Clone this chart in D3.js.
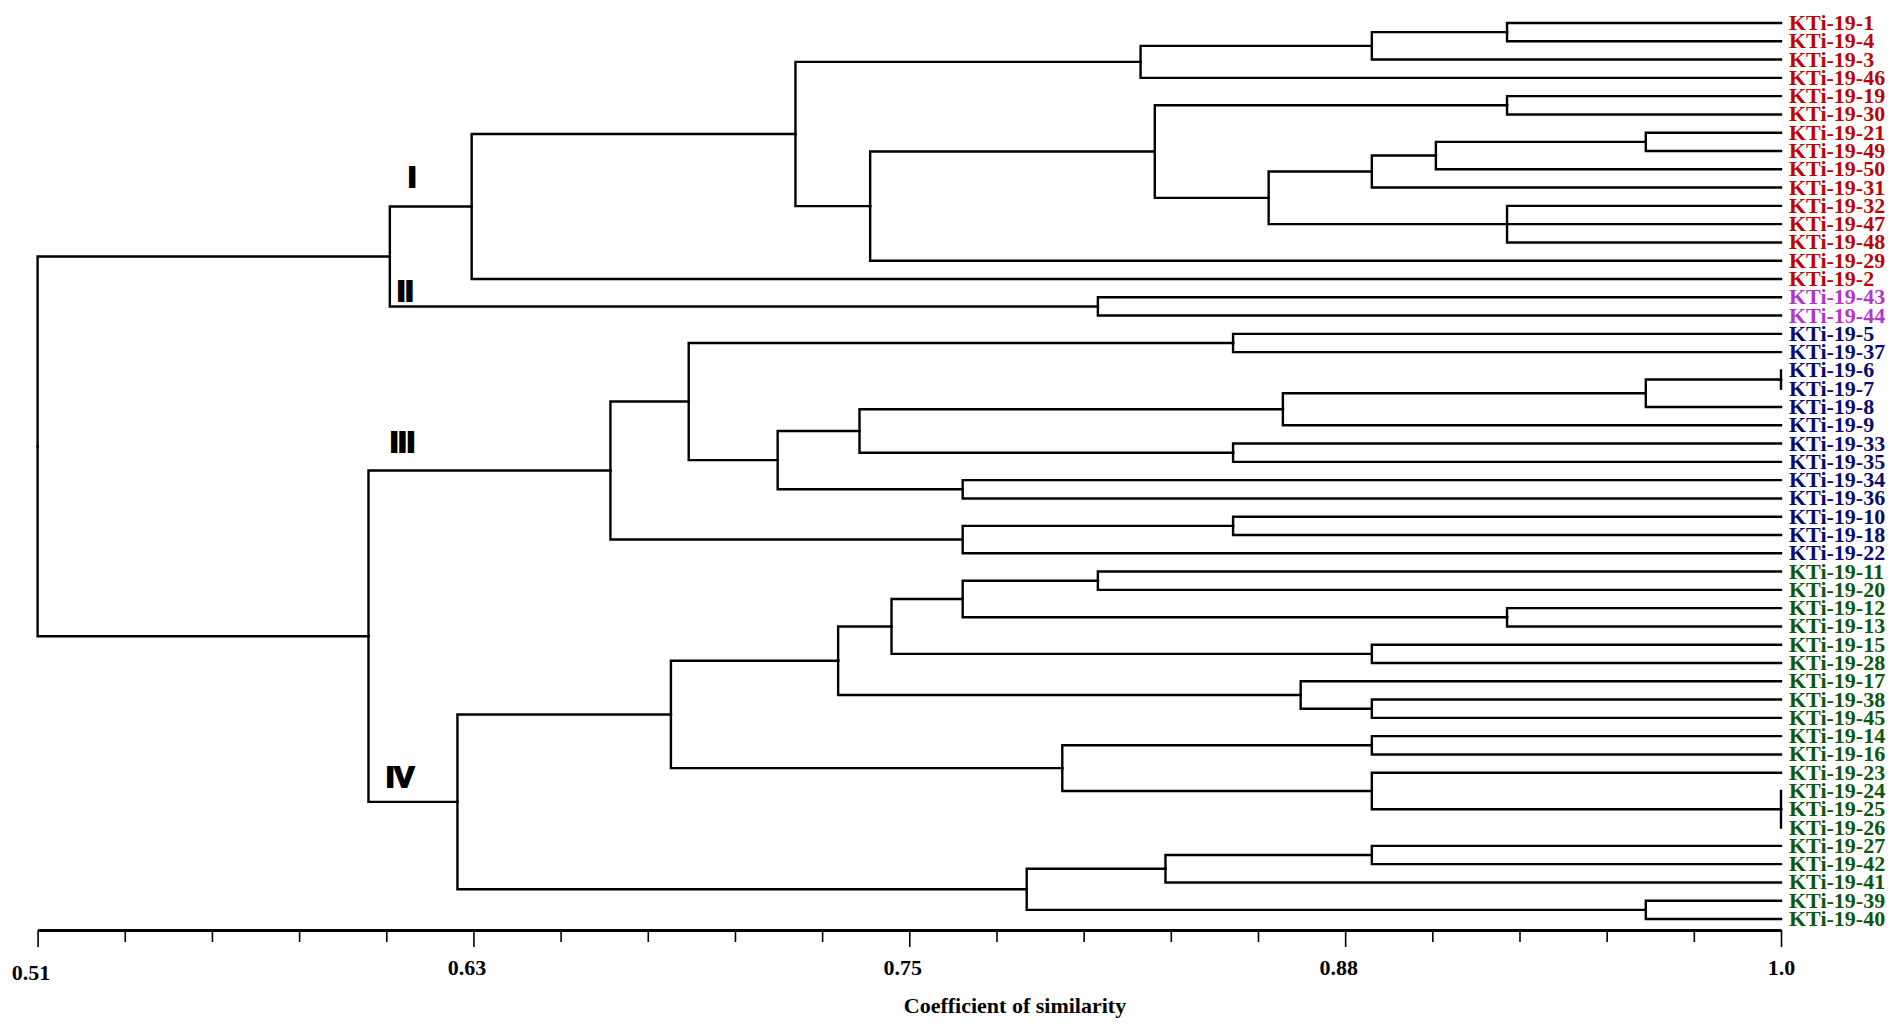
<!DOCTYPE html>
<html>
<head>
<meta charset="utf-8">
<script src="https://cdn.jsdelivr.net/npm/d3@7"></script>
<style>
    body { margin: 0; background: #fff; }
    svg { display: block; }
    .branch { fill: none; stroke: #000; stroke-width: 2.4; stroke-linecap: square; }
    .leafLabel { font-family: "Liberation Serif", "Times New Roman", serif; font-weight: bold; font-size: 22px; }
    .axis text { font-family: "Liberation Serif", "Times New Roman", serif; font-weight: bold; font-size: 22px; fill: #000; }
    .axis .domain { stroke: #000; stroke-width: 3; }
    .axis .tick line { stroke: #000; stroke-width: 1.6; }
    .axisTitle { font-family: "Liberation Serif", "Times New Roman", serif; font-weight: bold; font-size: 22px; }
    .clusterName { font-family: "Liberation Sans", Arial, sans-serif; font-weight: bold; font-size: 30px; stroke: #000; stroke-width: 2; }
</style>
</head>
<body>
<div id="chart_div"></div>
<script>
// leaf order, top to bottom
const leaves = [
    "KTi-19-1", "KTi-19-4", "KTi-19-3", "KTi-19-46", "KTi-19-19", "KTi-19-30", "KTi-19-21",
    "KTi-19-49", "KTi-19-50", "KTi-19-31", "KTi-19-32", "KTi-19-47", "KTi-19-48", "KTi-19-29",
    "KTi-19-2", "KTi-19-43", "KTi-19-44", "KTi-19-5", "KTi-19-37", "KTi-19-6", "KTi-19-7",
    "KTi-19-8", "KTi-19-9", "KTi-19-33", "KTi-19-35", "KTi-19-34", "KTi-19-36", "KTi-19-10",
    "KTi-19-18", "KTi-19-22", "KTi-19-11", "KTi-19-20", "KTi-19-12", "KTi-19-13", "KTi-19-15",
    "KTi-19-28", "KTi-19-17", "KTi-19-38", "KTi-19-45", "KTi-19-14", "KTi-19-16", "KTi-19-23",
    "KTi-19-24", "KTi-19-25", "KTi-19-26", "KTi-19-27", "KTi-19-42", "KTi-19-41", "KTi-19-39",
    "KTi-19-40"
];
// cluster (I..IV) of every leaf, same order as leaves
const leafGroup = [
    0, 0, 0, 0, 0, 0, 0, 0, 0, 0, 0, 0, 0, 0, 0,
    1, 1,
    2, 2, 2, 2, 2, 2, 2, 2, 2, 2, 2, 2, 2,
    3, 3, 3, 3, 3, 3, 3, 3, 3, 3, 3, 3, 3, 3, 3, 3, 3, 3, 3, 3
];
const groupNames = ["I", "II", "III", "IV"];
const groupColors = ["#bb0505", "#b236cc", "#0a0a6e", "#0d570d"];

// [node id, children, coefficient of similarity at the join]
const merges = [
    ["a1", ["KTi-19-1", "KTi-19-4"], 0.923],
    ["a2", ["a1", "KTi-19-3"], 0.885],
    ["a3", ["a2", "KTi-19-46"], 0.820],
    ["a4", ["KTi-19-19", "KTi-19-30"], 0.923],
    ["a5", ["KTi-19-21", "KTi-19-49"], 0.962],
    ["a6", ["a5", "KTi-19-50"], 0.903],
    ["a7", ["a6", "KTi-19-31"], 0.885],
    ["a8", ["KTi-19-32", "KTi-19-47", "KTi-19-48"], 0.923],
    ["a9", ["a7", "a8"], 0.856],
    ["a10", ["a4", "a9"], 0.824],
    ["a11", ["a10", "KTi-19-29"], 0.744],
    ["a12", ["a3", "a11"], 0.723],
    ["a13", ["a12", "KTi-19-2"], 0.632],
    ["b1", ["KTi-19-43", "KTi-19-44"], 0.808],
    ["ab", ["a13", "b1"], 0.609],
    ["c1", ["KTi-19-5", "KTi-19-37"], 0.846],
    ["c2", ["KTi-19-6", "KTi-19-7"], 1.0],
    ["c3", ["c2", "KTi-19-8"], 0.962],
    ["c4", ["c3", "KTi-19-9"], 0.860],
    ["c5", ["KTi-19-33", "KTi-19-35"], 0.846],
    ["c6", ["c4", "c5"], 0.741],
    ["c7", ["KTi-19-34", "KTi-19-36"], 0.770],
    ["c8", ["c6", "c7"], 0.718],
    ["c9", ["c1", "c8"], 0.693],
    ["c10", ["KTi-19-10", "KTi-19-18"], 0.846],
    ["c11", ["c10", "KTi-19-22"], 0.770],
    ["c12", ["c9", "c11"], 0.671],
    ["d1", ["KTi-19-11", "KTi-19-20"], 0.808],
    ["d2", ["KTi-19-12", "KTi-19-13"], 0.923],
    ["d3", ["d1", "d2"], 0.770],
    ["d4", ["KTi-19-15", "KTi-19-28"], 0.885],
    ["d5", ["d3", "d4"], 0.750],
    ["d6", ["KTi-19-38", "KTi-19-45"], 0.885],
    ["d7", ["KTi-19-17", "d6"], 0.865],
    ["d8", ["d5", "d7"], 0.735],
    ["d9", ["KTi-19-14", "KTi-19-16"], 0.885],
    ["d10", ["KTi-19-24", "KTi-19-25", "KTi-19-26"], 1.0],
    ["d11", ["KTi-19-23", "d10"], 0.885],
    ["d12", ["d9", "d11"], 0.798],
    ["d13", ["d8", "d12"], 0.688],
    ["d14", ["KTi-19-27", "KTi-19-42"], 0.885],
    ["d15", ["d14", "KTi-19-41"], 0.827],
    ["d16", ["KTi-19-39", "KTi-19-40"], 0.962],
    ["d17", ["d15", "d16"], 0.788],
    ["d18", ["d13", "d17"], 0.628],
    ["cd", ["c12", "d18"], 0.603],
    ["root", ["ab", "cd"], 0.51]
];

// axis
const axisStart = 0.51, axisEnd = 1.0, axisStep = 0.0245;
const axisLabels = ["0.51", "0.63", "0.75", "0.88", "1.0"];

const width = 1902, height = 1027;
const topY = 23, bottomY = 919, axisY = 930;

// build nested tree from merge list
let nodes = {};
leaves.forEach(function (name, i) {
    nodes[name] = {name: name, sim: 1.0, group: leafGroup[i]};
});
merges.forEach(function (m) {
    nodes[m[0]] = {name: m[0], sim: m[2], children: m[1].map(function (c) { return nodes[c]; })};
});

// d3.cluster pads half a step at each end, so size it to n steps
let step = (bottomY - topY) / (leaves.length - 1);
let root = d3.hierarchy(nodes["root"]);
d3.cluster()
    .size([step * leaves.length, 1])
    .separation(function () { return 1; })(root);

let x = d3.scaleLinear().domain([axisStart, axisEnd]).range([37.6, 1781]);

let svg = d3.select("#chart_div").append("svg")
    .attr("width", width)
    .attr("height", height);

let g = svg.append("g").attr("transform", "translate(0," + (topY - step / 2) + ")");

g.selectAll("path.branch")
    .data(root.links())
    .enter()
    .append("path")
    .classed("branch", true)
    .attr("d", function (d) {
        return "M" + x(d.source.data.sim) + "," + d.source.x +
            "V" + d.target.x + "H" + x(d.target.data.sim);
    });

g.selectAll("text.leafLabel")
    .data(root.leaves())
    .enter()
    .append("text")
    .classed("leafLabel", true)
    .attr("x", 1789)
    .attr("y", function (d) { return d.x + 7; })
    .attr("fill", function (d) { return groupColors[d.data.group]; })
    .text(function (d) { return d.data.name; });

// similarity axis
let tickValues = d3.range(21).map(function (i) { return axisStart + i * axisStep; });
let axis = d3.axisBottom(x)
    .tickValues(tickValues)
    .tickSize(12)
    .tickSizeOuter(0)
    .tickFormat(function (d, i) { return i % 5 === 0 ? axisLabels[i / 5] : ""; });

let axisG = svg.append("g")
    .classed("axis", true)
    .attr("transform", "translate(0," + axisY + ")")
    .call(axis);
axisG.selectAll(".tick line")
    .attr("y2", function (d, i) { return i % 5 === 0 ? 17 : 12; });
axisG.selectAll(".tick text")
    .attr("y", function (d, i) { return i === 0 ? 34 : 29; })
    .attr("dx", function (d, i) { return i === 20 ? 0 : -7; });

svg.append("text")
    .classed("axisTitle", true)
    .attr("x", 1015)
    .attr("y", 1013)
    .attr("text-anchor", "middle")
    .text("Coefficient of similarity");

// cluster numerals
let namePos = [[408, 187], [397, 301], [390, 452], [386, 787]];
svg.selectAll("text.clusterName")
    .data(groupNames)
    .enter()
    .append("text")
    .classed("clusterName", true)
    .attr("x", function (d, i) { return namePos[i][0]; })
    .attr("y", function (d, i) { return namePos[i][1]; })
    .text(function (d) { return d; });
</script>
</body>
</html>
